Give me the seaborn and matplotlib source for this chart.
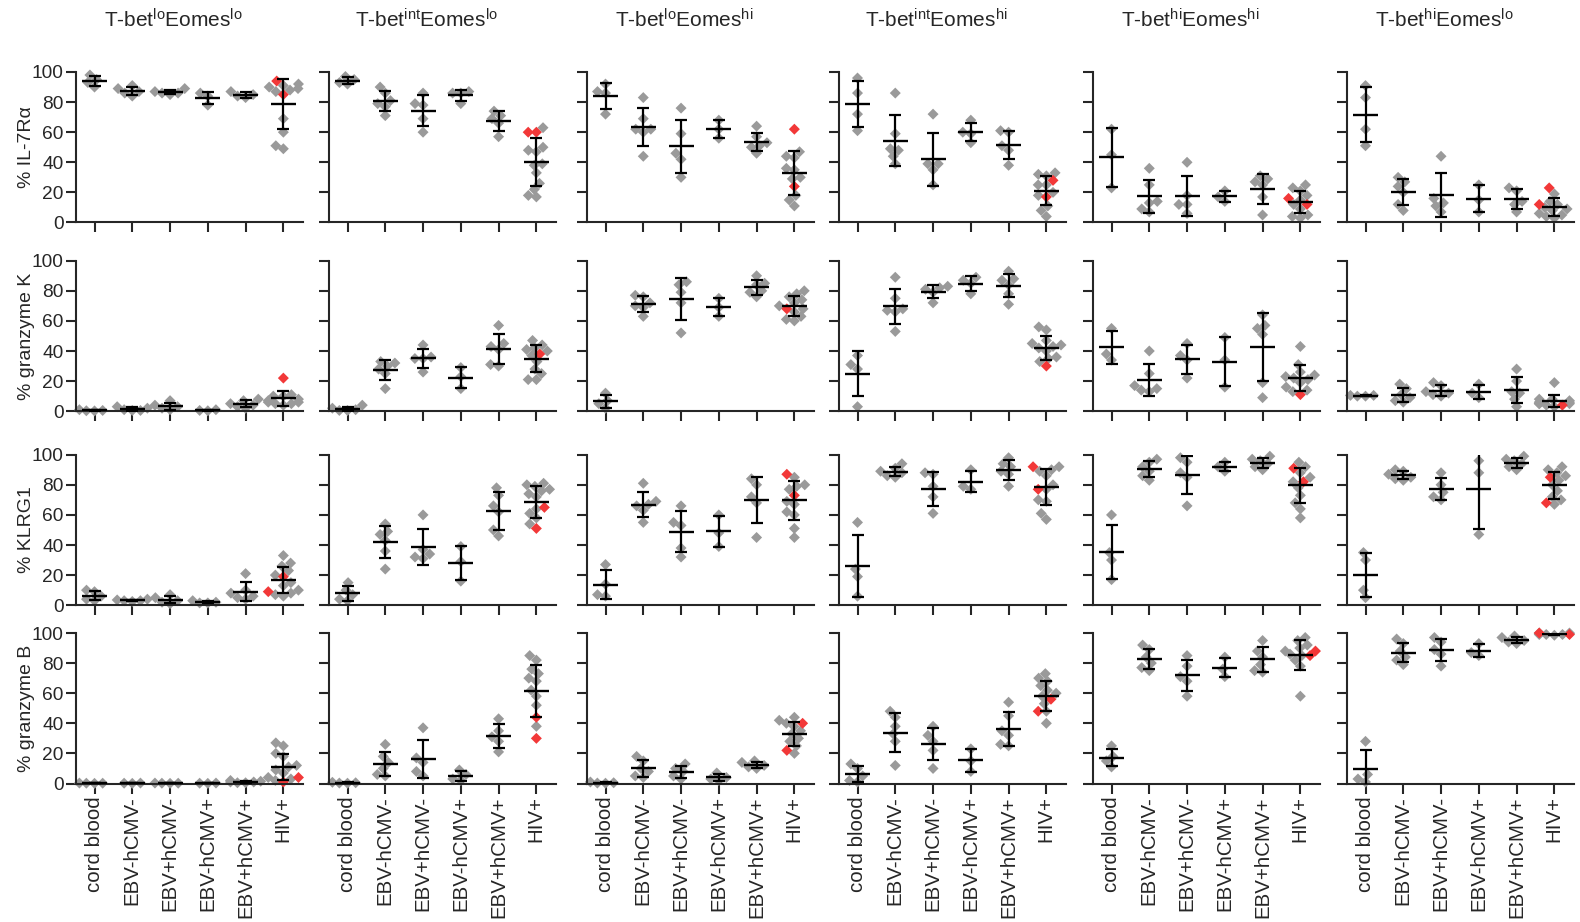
import numpy as np
import pandas as pd
import matplotlib
matplotlib.use("Agg")
import matplotlib.pyplot as plt
import seaborn as sns

groups = ['cord blood', 'EBV-hCMV-', 'EBV+hCMV-', 'EBV-hCMV+', 'EBV+hCMV+', 'HIV+']
subsets = [r'T-bet$^{\mathrm{lo}}$Eomes$^{\mathrm{lo}}$',
           r'T-bet$^{\mathrm{int}}$Eomes$^{\mathrm{lo}}$',
           r'T-bet$^{\mathrm{lo}}$Eomes$^{\mathrm{hi}}$',
           r'T-bet$^{\mathrm{int}}$Eomes$^{\mathrm{hi}}$',
           r'T-bet$^{\mathrm{hi}}$Eomes$^{\mathrm{hi}}$',
           r'T-bet$^{\mathrm{hi}}$Eomes$^{\mathrm{lo}}$']
markers = ['% IL-7Rα', '% granzyme K', '% KLRG1', '% granzyme B']

# each row: 6 subsets x 6 groups (HIV+ gray donors only), red HIV+ donors separate
il7ra = [
    [[98, 95, 93, 90], [91, 89, 87, 86, 84], [89, 87, 86, 86, 85], [86, 84, 78], [87, 85, 84, 83],
     [92, 91, 90, 89, 88, 87, 69, 60, 51, 49]],
    [[97, 95, 93, 92], [90, 86, 81, 79, 77, 71], [86, 79, 78, 69, 60], [87, 86, 86, 79], [74, 71, 69, 66, 57],
     [63, 50, 48, 47, 39, 38, 33, 26, 22, 18, 17]],
    [[92, 87, 86, 72], [83, 69, 62, 62, 60, 44], [76, 59, 46, 42, 30], [68, 62, 56], [64, 57, 53, 51, 50, 46],
     [47, 44, 43, 36, 35, 30, 29, 18, 15, 11]],
    [[96, 86, 72, 61], [86, 59, 49, 48, 44, 39], [72, 39, 39, 35, 25], [68, 60, 59, 53], [61, 60, 51, 48, 38],
     [33, 32, 31, 25, 25, 20, 18, 11, 8, 4]],
    [[62, 45, 23], [36, 25, 14, 13, 9, 7], [40, 18, 12, 12, 6], [21, 17, 14], [31, 29, 27, 25, 17, 5],
     [25, 23, 21, 18, 15, 12, 9, 5, 4, 3]],
    [[91, 83, 62, 51], [30, 27, 24, 20, 12, 8], [44, 16, 13, 11, 7], [25, 15, 7], [23, 21, 14, 12, 7],
     [19, 14, 12, 10, 9, 8, 6, 5, 4, 3]],
]
il7ra_red = [[94, 85], [60, 60], [62, 24], [28, 17], [16, 12], [23, 12]]

gzmk = [
    [[1, 0.5, 0.3, 0.2], [3, 2, 1, 0.5, 0.5], [7, 4, 3, 2, 1], [1, 0.5, 0.3], [8, 7, 5, 4, 3, 2],
     [11, 10, 10, 8, 7, 6, 6, 5, 5, 4]],
    [[4, 2, 1, 0.5, 0.5], [33, 32, 30, 28, 25, 15], [44, 36, 35, 35, 26], [29, 23, 15], [57, 45, 43, 41, 31, 30],
     [47, 44, 42, 41, 40, 37, 33, 28, 25, 21, 21]],
    [[12, 7, 5, 2], [77, 76, 72, 70, 69, 63], [86, 84, 79, 72, 52], [75, 69, 63], [90, 85, 84, 80, 79, 76],
     [80, 78, 76, 74, 72, 70, 68, 66, 63, 61, 60]],
    [[37, 31, 28, 3], [89, 75, 68, 67, 66, 53], [83, 82, 81, 79, 72], [89, 87, 85, 78], [93, 88, 87, 84, 78, 71],
     [56, 54, 47, 45, 44, 43, 42, 40, 36, 35, 33]],
    [[55, 38, 34], [40, 25, 17, 15, 14, 13], [45, 37, 34, 22], [49, 34, 16], [64, 57, 55, 51, 19, 9],
     [43, 31, 26, 24, 23, 22, 21, 19, 16, 14, 13]],
    [[10.5, 10, 10, 10.5], [18, 15, 11, 9, 7, 6], [19, 17, 13, 12, 11, 10], [18, 12, 9], [28, 20, 13, 12, 8, 3],
     [19, 8, 8, 7, 6, 6, 5, 5, 4, 3, 5]],
]
gzmk_red = [[22], [38], [68], [30], [11], [4]]

klrg1 = [
    [[10, 9, 6, 4, 3], [4, 3.5, 3, 3, 2.5], [7, 5, 3, 2, 1], [3, 2, 1.5, 1.5], [21, 10, 8, 6, 5, 4],
     [33, 28, 26, 23, 20, 15, 13, 10, 8, 7, 6]],
    [[15, 10, 7, 4, 3], [54, 49, 47, 43, 36, 24], [60, 37, 34, 32, 31], [39, 29, 16], [78, 73, 66, 62, 50, 46],
     [81, 80, 79, 77, 76, 74, 72, 64, 61, 58, 54]],
    [[27, 14, 7, 6], [81, 69, 67, 66, 63, 55], [66, 55, 53, 38, 32], [60, 48, 39], [84, 80, 72, 68, 45],
     [85, 80, 79, 77, 69, 67, 62, 60, 51, 45]],
    [[55, 24, 19, 6], [94, 91, 89, 88, 86, 85], [88, 87, 79, 72, 61], [90, 79, 77], [98, 94, 92, 89, 87, 79],
     [92, 90, 89, 86, 80, 77, 70, 69, 61, 57]],
    [[60, 35, 30, 17], [97, 95, 92, 89, 86, 83], [98, 95, 88, 85, 66], [95, 92, 89], [99, 97, 96, 94, 92, 90],
     [95, 92, 88, 85, 82, 78, 73, 68, 64, 58]],
    [[35, 30, 10, 5], [90, 89, 87, 85, 84, 83], [88, 80, 75, 72, 70], [96, 88, 47], [99, 97, 96, 94, 92, 90],
     [92, 90, 88, 86, 83, 80, 76, 72, 70, 67]],
]
klrg1_red = [[19, 9], [65, 51], [87, 73], [92, 77], [91, 82], [85, 68]]

gzmb = [
    [[0.2, 0.1, 0.3, 0.2], [0.2, 0.1, 0.3], [0.2, 0.1, 0.3, 0.2], [0.1, 0.2, 0.3], [2, 1.5, 1, 1, 0.5, 0.5],
     [27, 25, 20, 18, 12, 11, 9, 7, 4, 3, 2]],
    [[0.5, 0.3, 0.2, 0.8], [26, 18, 14, 10, 6, 5], [37, 17, 14, 8, 5], [9, 6, 3, 2], [43, 35, 31, 28, 21],
     [85, 82, 76, 73, 70, 68, 62, 58, 52, 38]],
    [[1, 0.5, 0.3, 0.2], [18, 15, 10, 8, 5, 4], [13, 10, 8, 5, 3], [7, 4, 3, 2], [15, 14, 12, 11, 10],
     [44, 42, 40, 38, 35, 33, 30, 28, 25, 20]],
    [[13, 10, 5, 2, 1], [48, 44, 38, 33, 28, 12], [38, 32, 28, 22, 10], [23, 15, 8], [54, 45, 35, 32, 26, 25],
     [73, 70, 68, 65, 62, 60, 58, 53, 48, 40]],
    [[25, 18, 15, 11], [92, 89, 84, 80, 77, 75], [85, 78, 71, 68, 58], [84, 76, 71], [95, 88, 84, 79, 75, 74],
     [97, 95, 92, 90, 88, 86, 85, 82, 78, 58]],
    [[28, 6, 3, 1], [96, 93, 88, 84, 82, 79], [97, 94, 89, 86, 78], [93, 87, 85], [98, 97, 95, 94, 93],
     [100, 99.5, 99, 99, 98.5, 99, 100, 99.5]],
]
gzmb_red = [[4, 1], [44, 30], [40, 22], [48, 56], [85, 88], [100, 99]]

rows = [(il7ra, il7ra_red), (gzmk, gzmk_red), (klrg1, klrg1_red), (gzmb, gzmb_red)]

recs = []
for r, (vals, reds) in enumerate(rows):
    for c in range(6):
        for g, name in enumerate(groups):
            for v in vals[c][g]:
                recs.append((r, c, name, v, 'other'))
        for v in reds[c]:
            recs.append((r, c, 'HIV+', v, 'red'))
df = pd.DataFrame(recs, columns=['row', 'col', 'group', 'value', 'donor'])

sns.set_style('ticks')
plt.rcParams['font.family'] = ['Liberation Sans', 'DejaVu Sans']
plt.rcParams['mathtext.fontset'] = 'custom'
plt.rcParams['mathtext.rm'] = 'Liberation Sans'
plt.rcParams['mathtext.it'] = 'Liberation Sans:italic'
plt.rcParams['mathtext.bf'] = 'Liberation Sans:bold'

W, H = 1580, 922
fig = plt.figure(figsize=(W / 100, H / 100), dpi=100)

col_left = [76, 329, 587, 839, 1093, 1347]
col_w = 227
row_top = [72, 260.7, 454.7, 633]
row_h = 150.5
xs = np.arange(6)

for r in range(4):
    for c in range(6):
        ax = fig.add_axes([col_left[c] / W, 1 - (row_top[r] + row_h) / H, col_w / W, row_h / H])
        sub = df[(df.row == r) & (df.col == c)]
        sns.swarmplot(data=sub, x='group', y='value', hue='donor', order=groups,
                      hue_order=['other', 'red'], palette={'other': '#9a9a9a', 'red': '#f23838'},
                      marker='D', size=5.6, linewidth=0, legend=False, ax=ax, zorder=2)
        for coll in ax.collections:
            coll.set_clip_on(False)
        st = sub.groupby('group')['value'].agg(['mean', 'std']).reindex(groups)
        ax.errorbar(xs, st['mean'], yerr=st['std'].fillna(0), fmt='none', ecolor='black',
                    elinewidth=1.6, capsize=4.2, capthick=1.6, zorder=5)
        ax.hlines(st['mean'], xs - 0.33, xs + 0.33, color='black', lw=1.7, zorder=5)

        ax.set_xlim(-0.49, 5.52)
        ax.set_ylim(0, 100)
        ax.set_yticks([0, 20, 40, 60, 80, 100])
        ax.set_xticks(xs)
        sns.despine(ax=ax)
        for s in ['left', 'bottom']:
            ax.spines[s].set_linewidth(1.5)
        ax.tick_params(axis='both', length=7, width=1.5, pad=2)
        ax.tick_params(axis='x', labelsize=14.8)
        ax.tick_params(axis='y', labelsize=13.8)
        ax.set_xlabel('')
        ax.set_ylabel('')
        if r == 3:
            ax.set_xticklabels(groups, rotation=90)
        else:
            ax.set_xticklabels([])
        if c == 0:
            ax.set_ylabel(markers[r], fontsize=14)
            ax.yaxis.set_label_coords(-0.18, 0.5)
        else:
            ax.set_yticklabels([])
        if r == 0:
            fig.text((col_left[c] + col_w / 2 - 16) / W, 1 - 28 / H, subsets[c],
                     ha='center', va='baseline', fontsize=15)

fig.savefig('out.png', dpi=100)
